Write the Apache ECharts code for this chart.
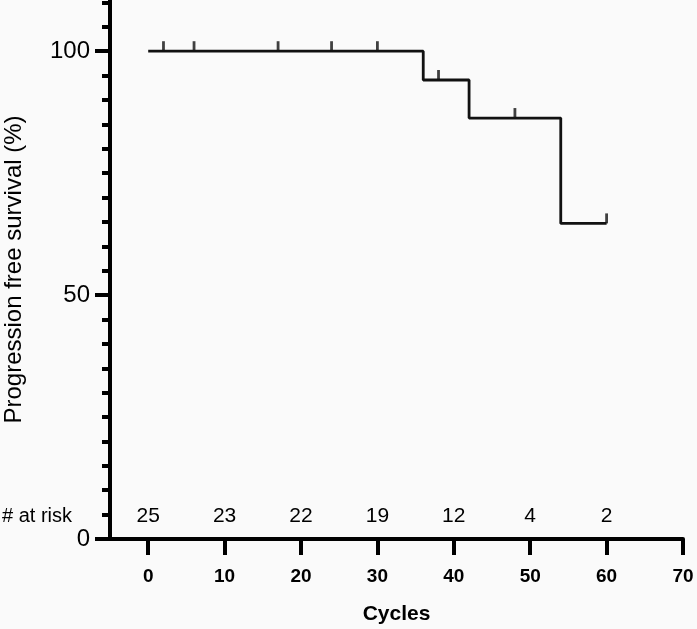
<!DOCTYPE html>
<html>
<head>
<meta charset="utf-8">
<script src="https://cdn.jsdelivr.net/npm/echarts@6/dist/echarts.min.js"></script>
<style>
  html, body { margin: 0; padding: 0; background: #fafafa; }
  #chart { width: 697px; height: 629px; }
</style>
</head>
<body>
<div id="chart"></div>
<script>
// Kaplan-Meier step points (cycles, % progression free)
var kmTimes = [0, 36, 42, 54, 60];
var kmSurvival = [100, 94.1, 86.3, 64.7, 64.7];
// Censored observations
var censorTimes = [2, 6, 17, 24, 30, 38, 48, 60];
var censorSurvival = [100, 100, 100, 100, 100, 94.1, 86.3, 64.7];
// Number at risk
var riskTimes = [0, 10, 20, 30, 40, 50, 60];
var riskCounts = [25, 23, 22, 19, 12, 4, 2];
var riskLabel = '# at risk';
// Axis ticks
var xTicks = [0, 10, 20, 30, 40, 50, 60, 70];
var yMajorTicks = [0, 50, 100];
var yMinorTicks = [5, 10, 15, 20, 25, 30, 35, 40, 45, 55, 60, 65, 70, 75, 80, 85, 90, 95, 105, 110];

var FONT = '"Liberation Sans", Arial, Helvetica, sans-serif';
var INK = '#000000';
var RISK_Y = 4.7;

var chart = echarts.init(document.getElementById('chart'), null, { renderer: 'canvas' });

var kmData = kmTimes.map(function (t, i) { return [t, kmSurvival[i]]; });
var censorData = censorTimes.map(function (t, i) { return [t, censorSurvival[i]]; });
var riskData = riskTimes.map(function (t, i) { return [t, RISK_Y, riskCounts[i]]; });

var option = {
  backgroundColor: '#fafafa',
  animation: false,
  grid: { left: 110, right: 14, top: 0, bottom: 90, containLabel: false, outerBoundsMode: 'none' },
  xAxis: {
    type: 'value',
    min: -5,
    max: 70,
    name: 'Cycles',
    nameLocation: 'middle',
    nameGap: 65,
    nameTextStyle: { fontFamily: FONT, fontSize: 21, fontWeight: 'bold', color: INK },
    axisLine: { show: true, onZero: false, lineStyle: { color: INK, width: 4 } },
    axisTick: { show: true, inside: false, length: 16, customValues: xTicks, lineStyle: { color: INK, width: 4 } },
    axisLabel: { show: true, customValues: xTicks, margin: 28, fontFamily: FONT, fontSize: 19, fontWeight: 'bold', color: INK },
    splitLine: { show: false }
  },
  yAxis: [
    {
      type: 'value',
      min: 0,
      max: 110.5,
      position: 'left',
      name: 'Progression free survival (%)',
      nameLocation: 'middle',
      nameGap: 84,
      nameTextStyle: { fontFamily: FONT, fontSize: 24, color: INK },
      axisLine: { show: true, onZero: false, lineStyle: { color: INK, width: 4 } },
      axisTick: { show: true, inside: false, length: 15, customValues: yMajorTicks, lineStyle: { color: INK, width: 4 } },
      axisLabel: { show: true, customValues: yMajorTicks, margin: 20, fontFamily: FONT, fontSize: 24, color: INK },
      splitLine: { show: false }
    },
    {
      type: 'value',
      min: 0,
      max: 110.5,
      position: 'left',
      offset: 0,
      axisLine: { show: true, onZero: false, lineStyle: { color: INK, width: 4 } },
      axisTick: { show: true, inside: false, length: 8, customValues: yMinorTicks, lineStyle: { color: INK, width: 4 } },
      axisLabel: { show: false },
      splitLine: { show: false }
    }
  ],
  series: [
    {
      type: 'line',
      step: 'end',
      data: kmData,
      symbol: 'none',
      lineStyle: { color: '#111111', width: 2.8 },
      z: 3
    },
    {
      type: 'scatter',
      data: censorData,
      symbol: 'rect',
      symbolSize: [2.8, 10],
      symbolOffset: [0, -5],
      itemStyle: { color: '#111111' },
      z: 4
    },
    {
      type: 'scatter',
      data: riskData,
      symbolSize: 0,
      silent: true,
      itemStyle: { color: '#000000', opacity: 1 },
      label: {
        show: true,
        position: 'inside',
        formatter: function (p) { return String(p.value[2]); },
        fontFamily: FONT,
        fontSize: 21,
        color: '#000000',
        textBorderWidth: 0,
        opacity: 1
      }
    }
  ],
  graphic: [
    {
      type: 'text',
      x: 2,
      y: 516,
      style: {
        text: riskLabel,
        font: '20px ' + FONT,
        fill: INK,
        verticalAlign: 'middle',
        align: 'left'
      }
    }
  ]
};

chart.setOption(option);
</script>
</body>
</html>
